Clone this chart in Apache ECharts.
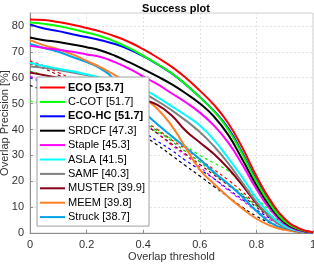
<!DOCTYPE html>
<html><head><meta charset="utf-8">
<script src="https://cdn.jsdelivr.net/npm/echarts@6/dist/echarts.min.js"></script>
<style>html,body{margin:0;padding:0;background:#fff}#c{width:314px;height:265px}</style>
</head><body><div id="c"></div>
<script>
const thresholds = [0,0.05,0.1,0.15,0.2,0.25,0.3,0.35,0.4,0.45,0.5,0.55,0.6,0.65,0.7,0.75,0.8,0.85,0.9,0.95,1];
const legendNames = ['ECO [53.7]','C-COT [51.7]','ECO-HC [51.7]','SRDCF [47.3]','Staple [45.3]','ASLA [41.5]','SAMF [40.3]','MUSTER [39.9]','MEEM [39.8]','Struck [38.7]'];
const boldNames = ['ECO [53.7]','ECO-HC [51.7]'];
const colors = ['#ff0000','#00ff00','#0000ff','#000000','#ff00ff','#00ffff','#808080','#880015','#ff7f27','#00a2e8'];
const ECO    = [82.5,82.3,81.5,80.5,79.2,77.8,76,73.8,71,67.8,64.3,60,55,49.5,42.5,33,22,12.5,5.5,1.8,0.3];
const CCOT   = [81.3,80.8,80,78.8,77.5,76,74,71.5,68.5,65.3,61.8,57.5,52.5,47,40,30.5,20,11,4.5,1.5,0.2];
const ECOHC  = [80.6,79,78,76.8,75.7,74.5,73,71,68.3,65.2,61.7,57.4,52.5,47.2,40.5,31,20.5,11.3,4.8,1.6,0.3];
const SRDCF  = [75.5,74.5,73.8,72.8,71.8,70.5,68.5,66,63.3,60.5,57.5,54,50,45,38,28.5,18.5,10,4,1.3,0.2];
const Staple = [72.3,71.5,70.8,70,69,68,66,63.5,60.5,57.5,54,50.5,46.5,41.5,35,26.5,17,9,3.5,1,0.1];
const ASLA   = [65.8,64.5,63.5,62.5,61.3,60,58.5,57,55.5,52.5,49,45.5,41.5,36,29,21.5,13.5,7,2.7,0.8,0.1];
const SAMF   = [64.3,63.8,63,62,61,59.5,58,56,54,51,47.5,43.5,39,33.5,27,19.5,12,6,2.3,0.7,0.1];
const MUSTER = [62,61,60,59,57.5,56,54.5,53,51.5,49.5,45.5,39.5,35,30.5,25,18.5,11.5,6,2.3,0.7,0.1];
const MEEM   = [74.5,72.5,71,69,66.5,64,61,57.5,52.5,48,41.5,33,24.5,19,14,9.5,5.5,2.8,1.2,0.4,0.05];
const Struck = [73,71.5,70,68,66,63.5,59,52,47,42,37.5,33,28.5,23.5,19,14,8.5,4,1.5,0.5,0.05];
const solidValues = [ECO,CCOT,ECOHC,SRDCF,Staple,ASLA,SAMF,MUSTER,MEEM,Struck];
// other trackers (dashed, not in legend)
const dashColors = ['#ff0000','#00ff00','#0000ff','#000000','#ff00ff','#880015','#00c000'];
const dRed     = [66.5,64.5,62,59.5,57,54,51,47.5,43.5,40,36,32.5,28.5,24.5,20.5,16,11,7,3.5,1,0.1];
const dGreen   = [51,50,49,48,47,45.5,44,42.5,41.5,39,36.5,33.5,30,27,24,19,13.5,8.5,4,1.2,0.1];
const dBlue    = [60,58,56,53.5,51,48.5,46,42.5,39,35.5,32,28,24.5,21,17,13,9,5.5,2.5,0.7,0];
const dBlack   = [57,55,53,50.5,48,45.5,43,40,37.5,34,30,26,22,18,14,10,6.5,3.8,1.8,0.5,0];
const dMagenta = [60.5,59,57.5,55.5,53.5,51,48.5,45.5,42.5,38.5,34,30,25.5,21,16.5,12.5,8.5,5,2.5,0.7,0];
const dMaroon  = [65.5,63.5,61,58.5,56,53,50,46.5,42.5,38.5,34.5,30.5,26.5,22.5,18.5,14.5,10,6,3,0.8,0.05];
const dGreen2  = [62.5,61,59,57,55,52.5,50,47,43,39.5,35.5,31.5,27.5,23,19,15,10.5,6.5,3.2,0.9,0.05];
const dashValues = [dRed,dGreen,dBlue,dBlack,dMagenta,dMaroon,dGreen2];

const pairs = v => thresholds.map((t,i)=>[t,v[i]]);
const series = [];
dashValues.forEach((v,i)=>series.push({type:'line',name:'_d'+i,data:pairs(v),symbol:'none',smooth:0.5,
  lineStyle:{color:dashColors[i],width:1.2,type:[3,3]},itemStyle:{color:dashColors[i]},z:2,silent:true}));
for(let i=solidValues.length-1;i>=0;i--){
  series.push({type:'line',name:legendNames[i],data:pairs(solidValues[i]),symbol:'none',smooth:0.5,
    lineStyle:{color:colors[i],width:2},itemStyle:{color:colors[i]},z:3});
}
const chart = echarts.init(document.getElementById('c'),null,{renderer:'canvas'});
const font = 'Liberation Sans';
chart.setOption({
  animation:false,
  textStyle:{fontFamily:font},
  title:{text:'Success plot',left:171,top:-2,textAlign:'center',textStyle:{fontSize:11,fontWeight:'bold',color:'#000',fontFamily:font}},
  grid:{left:30,right:1,top:13,bottom:32,show:true,borderColor:'#cfcfcf',borderWidth:1,containLabel:false,outerBoundsMode:'none'},
  legend:{orient:'vertical',left:37,top:77,backgroundColor:'#fff',borderColor:'#a0a0a0',borderWidth:1,
    padding:[4.5,4,3,3],itemWidth:25,itemHeight:2,itemGap:2.4,selectedMode:false,icon:'rect',
    data:legendNames.map(n=>({name:n,textStyle:{fontWeight:boldNames.includes(n)?'bold':'normal'}})),
    textStyle:{fontSize:11,lineHeight:12,color:'#000',fontFamily:font,padding:[0,0,0,-2]}},
  xAxis:{type:'value',min:0,max:1,interval:0.2,name:'Overlap threshold',nameLocation:'middle',nameGap:18,nameMoveOverlap:false,
    nameTextStyle:{fontSize:11,color:'#333',fontFamily:font},
    axisLine:{show:true,lineStyle:{color:'#8c8c8c'}},axisTick:{inside:true,length:3,lineStyle:{color:'#8c8c8c'}},
    axisLabel:{fontSize:11,color:'#333',margin:6,fontFamily:font},
    splitLine:{show:true,lineStyle:{color:'#e3e3e3',type:[2,2]}}},
  yAxis:{type:'value',min:0,max:85,interval:10,name:'Overlap Precision [%]',nameLocation:'middle',nameGap:20,nameMoveOverlap:false,
    nameTextStyle:{fontSize:11,color:'#333',fontFamily:font},
    axisLine:{show:true,lineStyle:{color:'#8c8c8c'}},axisTick:{inside:true,length:3,lineStyle:{color:'#8c8c8c'}},
    axisLabel:{fontSize:11,color:'#333',margin:6,showMaxLabel:false,fontFamily:font},
    splitLine:{show:true,lineStyle:{color:'#e3e3e3',type:[2,2]}}},
  series:series
});
</script></body></html>
